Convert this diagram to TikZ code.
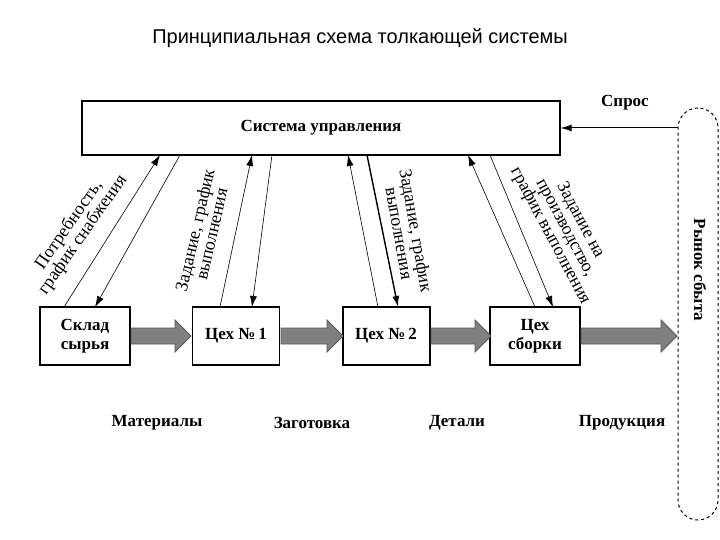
\documentclass[tikz,border=0pt]{standalone}
\usepackage{fontspec}
\setmainfont{Liberation Serif}
\newfontfamily\sansf{Liberation Sans}
\usetikzlibrary{arrows.meta}
\begin{document}
\begin{tikzpicture}[x=1pt,y=-1pt,
  box/.style={draw,line width=1.2pt,inner sep=0pt,align=center,font=\bfseries\fontsize{17}{19}\selectfont},
  lbl/.style={font=\bfseries\fontsize{17}{17}\selectfont,align=center},
  rl/.style={font=\fontsize{18}{17}\selectfont,align=center},
  ln/.style={line width=0.6pt,-{Latex[length=11pt,width=7pt]}},
  big/.style={draw=black!65,fill=black!50,line width=0.8pt}]
\useasboundingbox (0,0) rectangle (720,540);
\node[font=\sansf\fontsize{20}{22}\selectfont] (t) at (360,38) {Принципиальная схема толкающей системы};
\node[box,minimum width=478pt,minimum height=54pt] (cs) at (321,128) {Система управления};
\node[lbl] (sp) at (625,103) {Спрос};
\node[draw,dashed,line width=1pt,rounded corners=20pt,minimum width=40pt,minimum height=412pt] (mk) at (698,314) {};
\node[lbl,rotate=-90] (mt) at (700,270) {Рынок сбыта};
\draw[ln,line width=1pt] (mk.west|-cs.east) -- (cs.east);
\node[box,minimum width=90pt,minimum height=58pt] (b1) at (85,336) {Склад\\сырья};
\node[box,minimum width=87pt,minimum height=58pt] (b2) at (236,336) {Цех №\,1};
\node[box,line width=2pt,minimum width=87pt,minimum height=58pt] (b3) at (386,336) {Цех №\,2};
\node[box,minimum width=90pt,minimum height=58pt] (b4) at (535,336) {Цех\\сборки};
\foreach \s/\e in {131/191, 281/343, 431/491, 581/677}
  \draw[big] (\s,328) -- (\e-16,328) -- (\e-16,320) -- (\e,336) -- (\e-16,352) -- (\e-16,344) -- (\s,344) -- cycle;
\node[lbl] (l1) at (157,423) {Материалы};
\node[lbl] (l2) at (312,423) {Заготовка};
\node[lbl] (l3) at (457,423) {Детали};
\node[lbl] (l4) at (622,423) {Продукция};
\coordinate (p1) at (64,307); \coordinate (q1) at (160,155);
\coordinate (p2) at (180,155); \coordinate (q2) at (95,307);
\coordinate (p3) at (220,307); \coordinate (q3) at (252,155);
\coordinate (p4) at (272,155); \coordinate (q4) at (252,307);
\coordinate (p5) at (378,307); \coordinate (q5) at (348,155);
\coordinate (p6) at (367,155); \coordinate (q6) at (398,307);
\coordinate (p7) at (535,307); \coordinate (q7) at (468,155);
\coordinate (p8) at (490,155); \coordinate (q8) at (553,307);
\draw[ln] (p1) -- (q1); \draw[ln] (p2) -- (q2);
\draw[ln] (p3) -- (q3); \draw[ln] (p4) -- (q4);
\draw[ln] (p5) -- (q5); \draw[ln,line width=1.4pt] (p6) -- (q6);
\draw[ln] (p7) -- (q7); \draw[ln] (p8) -- (q8);
\node[rl,rotate=55] (t1) at (76,230) {Потребность,\\график снабжения};
\node[rl,rotate=77] (t2) at (203,232) {Задание, график\\выполнения};
\node[rl,rotate=-80] (t3) at (408,232) {Задание, график\\выполнения};
\node[rl,rotate=-62] (t4) at (565,228) {Задание на\\производство,\\график выполнения};
\end{tikzpicture}
\end{document}
